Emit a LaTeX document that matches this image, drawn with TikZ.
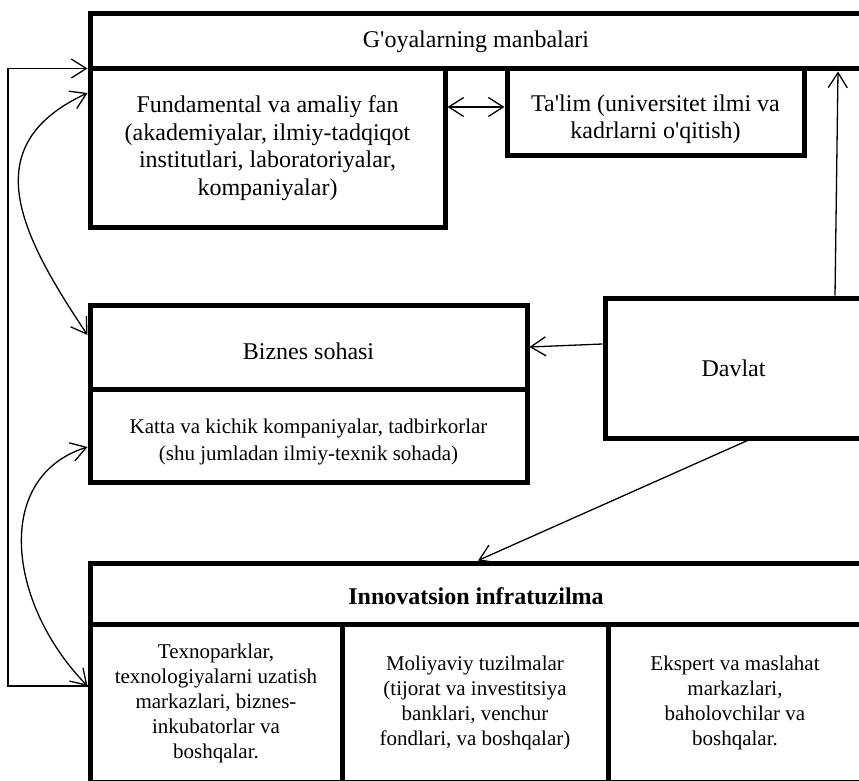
\documentclass[tikz,border=0pt]{standalone}
\usepackage{fontspec}
\setmainfont{Liberation Serif}[Ligatures=TeXOff]
\usetikzlibrary{arrows.meta,calc}
\begin{document}
\begin{tikzpicture}[x=1pt,y=-1pt,
  >={Straight Barb[length=15pt,width=19pt]},
  box/.style={draw, line width=5pt, inner sep=0pt, align=center,
    font=\fontsize{24}{27.5}\selectfont},
  small/.style={font=\fontsize{21}{25}\selectfont},
  tx/.style={align=center, inner sep=0pt, font=\fontsize{24}{27.5}\selectfont},
  txs/.style={align=center, inner sep=0pt, font=\fontsize{21}{27}\selectfont},
  conn/.style={line width=1.3pt}]
\useasboundingbox (0,0) rectangle (859,781);
% boxes
\node[box, minimum width=772pt, minimum height=55pt] (goy) at (476,41.5) {G'oyalarning manbalari};
\node[box, minimum width=355pt, minimum height=158pt] (fund) at (267.5,148)
  {Fundamental va amaliy fan\\(akademiyalar, ilmiy-tadqiqot\\institutlari, laboratoriyalar,\\kompaniyalar)};
\node[box, minimum width=297pt, minimum height=86pt,
  label={[tx, yshift=-7pt]center:{Ta'lim (universitet ilmi va\\kadrlarni o'qitish)}}] (talim) at (655.5,112) {};
\node[box, minimum width=437pt, minimum height=84pt,
  label={[tx, yshift=-4pt]center:{Biznes sohasi}}] (biz) at (308.5,347) {};
\node[box, minimum width=437pt, minimum height=93pt,
  label={[txs, yshift=-6pt]center:{Katta va kichik kompaniyalar, tadbirkorlar\\(shu jumladan ilmiy-texnik sohada)}}] (katta) at (308.5,435.5) {};
\node[box, minimum width=257pt, minimum height=140pt] (davlat) at (733.5,368) {Davlat};
\node[box, minimum width=772pt, minimum height=61pt,
  label={[tx, font=\fontsize{24}{27.5}\selectfont\bfseries, yshift=-3pt]center:{Innovatsion infratuzilma}}] (innov) at (476,593.5) {};
\node[box, small, minimum width=252pt, minimum height=158pt] (texno) at (216,703)
  {Texnoparklar,\\texnologiyalarni uzatish\\markazlari, biznes-\\inkubatorlar va\\boshqalar.};
\node[box, small, minimum width=266pt, minimum height=158pt] (moli) at (475,703)
  {Moliyaviy tuzilmalar\\(tijorat va investitsiya\\banklari, venchur\\fondlari, va boshqalar)};
\node[box, small, minimum width=254pt, minimum height=158pt] (eksp) at (735,703)
  {Ekspert va maslahat\\markazlari,\\baholovchilar va\\boshqalar.};
% helper coordinates
\coordinate (tl) at ([yshift=5pt]talim.west);
\coordinate (dup) at ([xshift=101.5pt]davlat.north);
\coordinate (fb) at ([yshift=17pt]texno.west);
\coordinate (c1a) at ($(fund.north west)+(0,26.5)$);
\coordinate (c1b) at ($(biz.north west)+(0,32.5)$);
\coordinate (c2a) at ($(katta.north west)+(0,60.5)$);
% connectors
\draw[conn,<->] (tl -| fund.east) -- (tl);
\draw[conn,->] (dup) -- ($(goy.south)+(362,0)$);
\draw[conn,->] ([yshift=24pt]davlat.west) -- (biz.east);
\draw[conn,->] ([xshift=14pt]davlat.south) -- ([xshift=2pt]innov.north);
\draw[conn,->] (fb) -- ++(-79.5,0) |- ($(goy.south west)+(0,-3)$);
\draw[conn,<->] (c1a) .. controls +(-112,52) and +(-69,-103) .. (c1b);
\draw[conn,<->] (c2a) .. controls +(-95,30) and +(-80,-82) .. (fb);
\end{tikzpicture}
\end{document}
